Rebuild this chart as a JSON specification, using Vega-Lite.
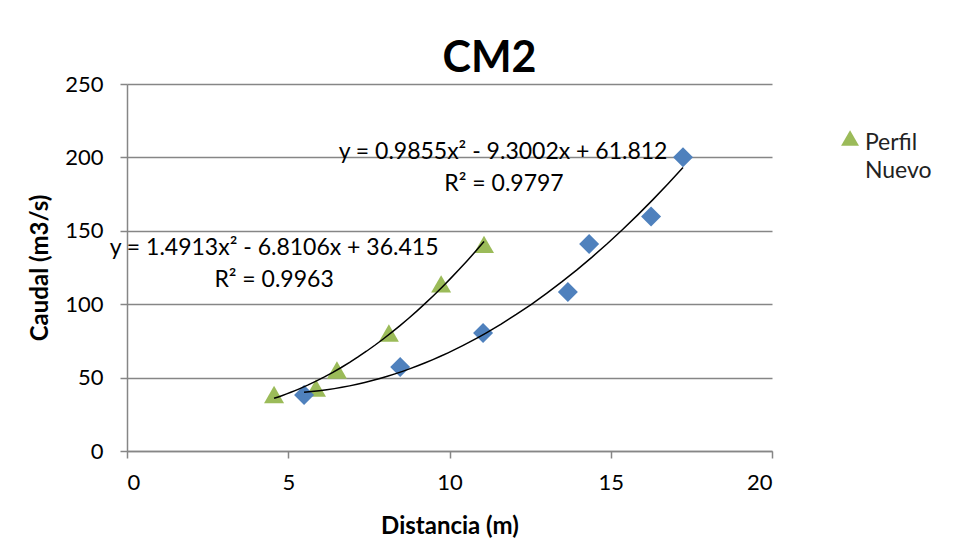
{
  "$schema": "https://vega.github.io/schema/vega-lite/v6.json",
  "width": 645,
  "height": 367,
  "autosize": {"type": "none"},
  "padding": {"left": 127, "top": 84, "right": 188, "bottom": 109},
  "background": "white",
  "config": {
    "view": {"stroke": null},
    "font": "Lato",
    "axis": {
      "domainColor": "#868686",
      "tickColor": "#868686",
      "gridColor": "#868686",
      "gridOpacity": 1,
      "domainWidth": 1.5,
      "tickWidth": 1.5,
      "gridWidth": 1.5,
      "labelFont": "Lato",
      "labelFontSize": 22,
      "labelColor": "black",
      "titleFont": "Lato",
      "titleFontSize": 24,
      "titleFontWeight": "bold",
      "titleColor": "black",
      "tickSize": 7
    }
  },
  "title": {
    "text": "CM2",
    "fontSize": 43,
    "fontWeight": "bold",
    "font": "Lato",
    "color": "black",
    "anchor": "middle",
    "baseline": "alphabetic",
    "dx": 40,
    "dy": 41,
    "offset": -1
  },
  "datasets": {
    "puntos": [
      {"serie": "Perfil Nuevo", "distancia": 4.56, "caudal": 38.5},
      {"serie": "Perfil Nuevo", "distancia": 5.86, "caudal": 42.9},
      {"serie": "Perfil Nuevo", "distancia": 6.51, "caudal": 55.2},
      {"serie": "Perfil Nuevo", "distancia": 8.12, "caudal": 80.4},
      {"serie": "Perfil Nuevo", "distancia": 9.74, "caudal": 113.8},
      {"serie": "Perfil Nuevo", "distancia": 11.07, "caudal": 140.7},
      {"serie": "Perfil Actual", "distancia": 5.49, "caudal": 38.1},
      {"serie": "Perfil Actual", "distancia": 8.47, "caudal": 57.2},
      {"serie": "Perfil Actual", "distancia": 11.04, "caudal": 80.4},
      {"serie": "Perfil Actual", "distancia": 13.67, "caudal": 108.3},
      {"serie": "Perfil Actual", "distancia": 14.33, "caudal": 141.0},
      {"serie": "Perfil Actual", "distancia": 16.25, "caudal": 159.7},
      {"serie": "Perfil Actual", "distancia": 17.24, "caudal": 200.1}
    ],
    "etiquetas": [
      {"distancia": 11.66, "caudal": 203.7, "texto": "y = 0.9855x² - 9.3002x + 61.812"},
      {"distancia": 11.69, "caudal": 181.9, "texto": "R² = 0.9797"},
      {"distancia": 4.56, "caudal": 138.3, "texto": "y = 1.4913x² - 6.8106x + 36.415"},
      {"distancia": 4.56, "caudal": 116.5, "texto": "R² = 0.9963"}
    ],
    "leyenda_simbolo": [
      {"distancia": 22.42, "caudal": 213.2}
    ],
    "leyenda_texto": [
      {"distancia": 22.88, "caudal": 210.0, "texto": "Perfil"},
      {"distancia": 22.88, "caudal": 190.5, "texto": "Nuevo"}
    ]
  },
  "layer": [
    {
      "data": {"name": "puntos"},
      "mark": {"type": "point", "filled": true, "opacity": 1, "size": 400},
      "encoding": {
        "x": {
          "field": "distancia",
          "type": "quantitative",
          "title": "Distancia (m)",
          "scale": {"domain": [0, 20], "nice": false},
          "axis": {"values": [0, 5, 10, 15, 20], "grid": false, "labelPadding": 14, "titlePadding": 21}
        },
        "y": {
          "field": "caudal",
          "type": "quantitative",
          "title": "Caudal (m3/s)",
          "scale": {"domain": [0, 250], "nice": false},
          "axis": {"values": [0, 50, 100, 150, 200, 250], "grid": true, "labelPadding": 17, "titlePadding": 12}
        },
        "color": {
          "field": "serie",
          "type": "nominal",
          "scale": {"domain": ["Perfil Nuevo", "Perfil Actual"], "range": ["#9BBB59", "#4F81BD"]},
          "legend": null
        },
        "shape": {
          "field": "serie",
          "type": "nominal",
          "scale": {"domain": ["Perfil Nuevo", "Perfil Actual"], "range": ["triangle-up", "diamond"]},
          "legend": null
        }
      }
    },
    {
      "data": {"name": "puntos"},
      "transform": [
        {"regression": "caudal", "on": "distancia", "groupby": ["serie"], "method": "poly", "order": 2}
      ],
      "mark": {"type": "line", "color": "black", "strokeWidth": 1.5},
      "encoding": {
        "x": {"field": "distancia", "type": "quantitative"},
        "y": {"field": "caudal", "type": "quantitative"},
        "detail": {"field": "serie", "type": "nominal"}
      }
    },
    {
      "data": {"name": "etiquetas"},
      "mark": {"type": "text", "font": "Lato", "fontSize": 23, "color": "black", "align": "center", "baseline": "middle"},
      "encoding": {
        "x": {"field": "distancia", "type": "quantitative"},
        "y": {"field": "caudal", "type": "quantitative"},
        "text": {"field": "texto", "type": "nominal"}
      }
    },
    {
      "data": {"name": "leyenda_simbolo"},
      "mark": {"type": "point", "shape": "triangle-up", "filled": true, "opacity": 1, "size": 320, "color": "#9BBB59"},
      "encoding": {
        "x": {"field": "distancia", "type": "quantitative"},
        "y": {"field": "caudal", "type": "quantitative"}
      }
    },
    {
      "data": {"name": "leyenda_texto"},
      "mark": {"type": "text", "font": "Lato", "fontSize": 23, "color": "#222222", "align": "left", "baseline": "middle"},
      "encoding": {
        "x": {"field": "distancia", "type": "quantitative"},
        "y": {"field": "caudal", "type": "quantitative"},
        "text": {"field": "texto", "type": "nominal"}
      }
    }
  ]
}
